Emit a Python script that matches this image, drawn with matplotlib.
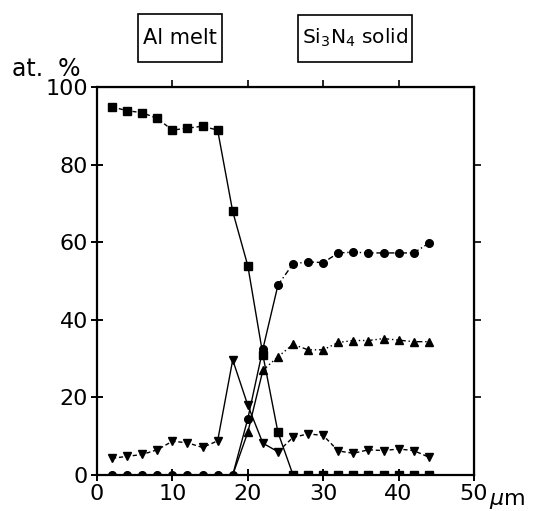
import numpy as np
import matplotlib.pyplot as plt
from matplotlib.patches import Rectangle

# 位置 (µm)
x = [2, 4, 6, 8, 10, 12, 14, 16, 18, 20, 22, 24, 26, 28, 30, 32, 34, 36, 38, 40, 42, 44]

# Al (■)
al = [95, 94, 93.5, 92, 89, 89.5, 90, 89, 68, 54, 31, 11,
      0, 0, 0, 0, 0, 0, 0, 0, 0, 0]
# Si (●)
si = [0, 0, 0, 0, 0, 0, 0, 0, 0, 14.5, 32.5, 49,
      54.5, 55, 54.8, 57.3, 57.5, 57.3, 57.3, 57.3, 57.3, 59.8]
# N (▲)
n = [0, 0, 0, 0, 0, 0, 0, 0, 0, 11, 27, 30.5,
     33.7, 32.3, 32.3, 34.2, 34.7, 34.7, 35.2, 34.8, 34.4, 34.4]
# O (▼)
o = [4.3, 4.8, 5.3, 6.5, 8.7, 8.3, 7.1, 8.8, 29.7, 18, 8.2, 6,
     9.7, 10.6, 10.2, 6.2, 5.6, 6.5, 6.3, 6.7, 6.3, 4.6]

fig = plt.figure(figsize=(5.37, 5.11), dpi=100)
ax = fig.add_axes([0.1806, 0.0705, 0.7021, 0.7583])

lw = 1.0
ms = 5.5

def draw(vals, marker, dash, steep):
    # 緩やかな部分は破線、急な部分は実線
    a, b = steep
    xs = np.array(x, dtype=float)
    vs = np.array(vals, dtype=float)
    ax.plot(xs[:a + 1], vs[:a + 1], color='black', lw=lw, dashes=dash)
    ax.plot(xs[a:b + 1], vs[a:b + 1], color='black', lw=lw)
    ax.plot(xs[b:], vs[b:], color='black', lw=lw, dashes=dash)
    ax.plot(xs, vs, ls='none', marker=marker, color='black', ms=ms)

draw(al, 's', (3, 2), (7, 12))
draw(si, 'o', (4, 2, 1, 2), (8, 11))
draw(n, '^', (4, 2, 1, 2, 1, 2), (8, 10))
draw(o, 'v', (3, 2), (7, 11))

ax.set_xlim(0, 50)
ax.set_ylim(0, 100)
ax.set_xticks([0, 10, 20, 30, 40, 50])
ax.set_yticks([0, 20, 40, 60, 80, 100])

for s in ax.spines.values():
    s.set_linewidth(1.6)

ax.tick_params(axis='both', labelsize=16, direction='inout',
               length=9, width=1.4, pad=2)

# 上と右の目盛りは外向き
top = ax.secondary_xaxis('top')
top.set_xticks([10, 20, 30, 40])
top.tick_params(direction='out', length=5, width=1.2, labeltop=False)
right = ax.secondary_yaxis('right')
right.set_yticks([20, 40, 60, 80])
right.tick_params(direction='out', length=5, width=1.2, labelright=False)

ax.text(52.0, -4.2, r'$\mu$m', fontsize=16, ha='left', va='top',
        clip_on=False)
ax.text(-11.3, 101.8, 'at.  %', fontsize=17, ha='left', va='bottom',
        clip_on=False)

# 上部のラベル枠
fig.patches.append(Rectangle((0.257, 0.8787), 0.156, 0.0939, fill=False,
                             ec='black', lw=1.2, transform=fig.transFigure))
fig.patches.append(Rectangle((0.555, 0.8787), 0.212, 0.092, fill=False,
                             ec='black', lw=1.2, transform=fig.transFigure))
fig.text(0.335, 0.925, 'Al melt', fontsize=15, ha='center', va='center')
fig.text(0.661, 0.925, r'Si$_3$N$_4$ solid', fontsize=14.5,
         ha='center', va='center')

fig.savefig('out.png', dpi=100)
